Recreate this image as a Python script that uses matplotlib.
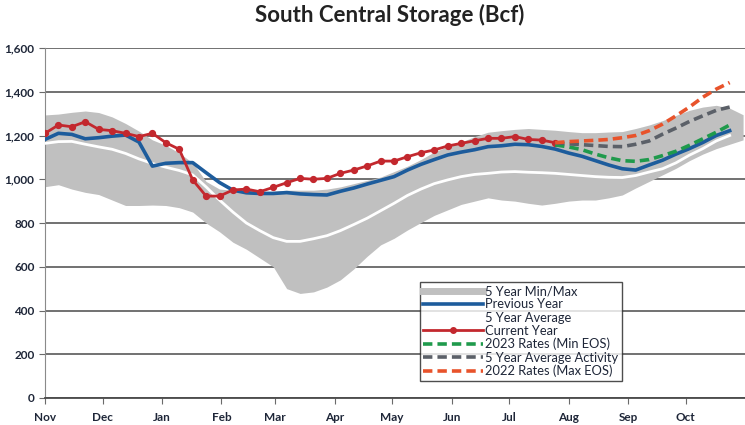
"""South Central storage chart (Bcf), weekly."""

import numpy as np
import pandas as pd
import matplotlib
matplotlib.use("Agg", force=True)
import matplotlib.pyplot as plt
from matplotlib.lines import Line2D
from matplotlib.ticker import FuncFormatter, MultipleLocator

START = "2022-11-01"

# weekly values, Bcf
band_max = [1294, 1298, 1306, 1312, 1305, 1285, 1255, 1220, 1180, 1155,
            1120, 1075, 990, 955, 950, 950, 945, 945, 950, 950,
            950, 955, 965, 980, 995, 1010, 1035, 1060, 1090, 1125,
            1150, 1170, 1195, 1215, 1222, 1228, 1232, 1228, 1224, 1218,
            1213, 1213, 1216, 1218, 1232, 1248, 1268, 1292, 1315, 1330,
            1338, 1325, 1295]
band_min = [966, 975, 955, 940, 930, 905, 880, 880, 882, 880,
            870, 850, 800, 760, 712, 680, 640, 600, 500, 478,
            485, 507, 540, 590, 648, 700, 730, 768, 802, 835,
            860, 885, 900, 915, 905, 900, 890, 882, 890, 900,
            905, 905, 915, 928, 960, 990, 1020, 1050, 1085, 1115,
            1140, 1160, 1180]
five_year_avg = [1164, 1172, 1173, 1160, 1148, 1137, 1118, 1093, 1072, 1055,
                 1040, 1020, 965, 905, 850, 800, 765, 733, 716, 716,
                 728, 742, 765, 793, 822, 856, 890, 926, 955, 980,
                 997, 1012, 1022, 1027, 1033, 1035, 1032, 1030, 1027, 1022,
                 1017, 1012, 1009, 1008, 1017, 1033, 1048, 1075, 1110, 1140,
                 1175, 1200]
previous_year = [1182, 1210, 1205, 1185, 1190, 1197, 1202, 1170, 1060, 1073,
                 1076, 1076, 1030, 985, 950, 938, 935, 935, 939, 933,
                 930, 928, 945, 960, 978, 995, 1012, 1042, 1068, 1090,
                 1111, 1124, 1135, 1149, 1153, 1160, 1158, 1150, 1138, 1120,
                 1105, 1085, 1065, 1048, 1042, 1065, 1087, 1115, 1140, 1168,
                 1200, 1222]
current_year = [1210, 1248, 1240, 1263, 1228, 1222, 1210, 1195, 1210, 1167,
                1137, 997, 923, 923, 951, 955, 943, 963, 984, 1004,
                1000, 1004, 1027, 1042, 1061, 1083, 1083, 1103, 1121, 1134,
                1152, 1164, 1176, 1187, 1187, 1195, 1182, 1179, 1167]
# projections start at the last current-year week
rates_2023 = [1157, 1148, 1135, 1115, 1098, 1085, 1082, 1090, 1108, 1128,
              1155, 1185, 1215, 1248]
avg_activity = [1167, 1162, 1158, 1154, 1150, 1149, 1160, 1175, 1206, 1234,
                1264, 1290, 1315, 1330]
rates_2022 = [1167, 1172, 1175, 1178, 1182, 1190, 1200, 1222, 1252, 1290,
              1330, 1375, 1412, 1442]

month_labels = ["Nov", "Dec", "Jan", "Feb", "Mar", "Apr", "May", "Jun",
                "Jul", "Aug", "Sep", "Oct"]

BAND = "#c0c0c0"
BLUE = "#1d5c9c"
RED = "#c3282e"
GREEN = "#1f9a4c"
DGREY = "#5b6068"
ORANGE = "#e8532b"
TXT = "#1e2638"

plt.rcParams["font.family"] = ["Lato", "DejaVu Sans"]

weeks = pd.date_range(START, periods=len(band_max), freq="7D")
proj_weeks = weeks[len(current_year) - 1:len(current_year) - 1 + len(rates_2023)]
month_starts = pd.date_range(START, periods=len(month_labels), freq="MS")

fig = plt.figure(figsize=(7.45, 4.25), dpi=100)
ax = fig.add_axes([45 / 745, 1 - 398 / 425, 700 / 745, 350 / 425])

ax.fill_between(weeks, band_min, band_max, color=BAND, lw=0, zorder=2)
ax.plot(weeks[:len(five_year_avg)], five_year_avg, color="white", lw=2.0, zorder=3)
ax.plot(weeks[:len(previous_year)], previous_year, color=BLUE, lw=2.6, zorder=4)
ax.plot(weeks[:len(current_year)], current_year, color=RED, lw=2.0,
        marker="o", ms=4.2, zorder=5)
for vals, col in [(rates_2023, GREEN), (avg_activity, DGREY), (rates_2022, ORANGE)]:
    ax.plot(proj_weeks, vals, color=col, lw=2.6, dashes=(2.6, 1.4), zorder=6)

ax.set_ylim(0, 1600)
ax.set_xlim(pd.Timestamp(START), pd.Timestamp("2023-11-01"))
ax.yaxis.set_major_locator(MultipleLocator(200))
ax.yaxis.set_major_formatter(FuncFormatter(lambda v, _: f"{v:,.0f}"))
ax.set_xticks(month_starts)
ax.set_xticklabels(month_labels)
ax.grid(True, axis="y", color="#4a4a4a", lw=1.1, zorder=1)
ax.set_axisbelow(True)

for side in ["top", "right"]:
    ax.spines[side].set_visible(False)
ax.spines["left"].set_color("#8a8a8a")
ax.spines["bottom"].set_color("#4a4a4a")
ax.spines["bottom"].set_linewidth(1.3)
ax.tick_params(axis="both", length=4, color="#6a6a6a", labelcolor=TXT, labelsize=8.5)
ax.tick_params(axis="x", pad=6)
for lab in ax.get_xticklabels() + ax.get_yticklabels():
    lab.set_fontweight("bold")

fig.suptitle("South Central Storage (Bcf)", x=0.523, y=0.99, fontsize=16,
             fontweight="bold", color="#222222")

handles = [
    Line2D([], [], color=BAND, lw=5),
    Line2D([], [], color=BLUE, lw=2.6),
    Line2D([], [], color="white", lw=2),
    Line2D([], [], color=RED, lw=2, marker="o", ms=4),
    Line2D([], [], color=GREEN, lw=2.6, dashes=(2.6, 1.4)),
    Line2D([], [], color=DGREY, lw=2.6, dashes=(2.6, 1.4)),
    Line2D([], [], color=ORANGE, lw=2.6, dashes=(2.6, 1.4)),
]
labels = ["5 Year Min/Max", "Previous Year", "5 Year Average", "Current Year",
          "2023 Rates (Min EOS)", "5 Year Average Activity", "2022 Rates (Max EOS)"]
leg = fig.legend(handles, labels, loc="upper left",
                 bbox_to_anchor=(420 / 745, 1 - 282 / 425), bbox_transform=fig.transFigure,
                 fontsize=9.3, handlelength=4.6, handletextpad=0.2, labelspacing=0.09,
                 borderpad=0.25, numpoints=1, frameon=True, fancybox=False,
                 borderaxespad=0)
leg.get_frame().set_edgecolor("#222222")
leg.get_frame().set_linewidth(1.0)
for t in leg.get_texts():
    t.set_color(TXT)

fig.savefig("out.png", dpi=100)
